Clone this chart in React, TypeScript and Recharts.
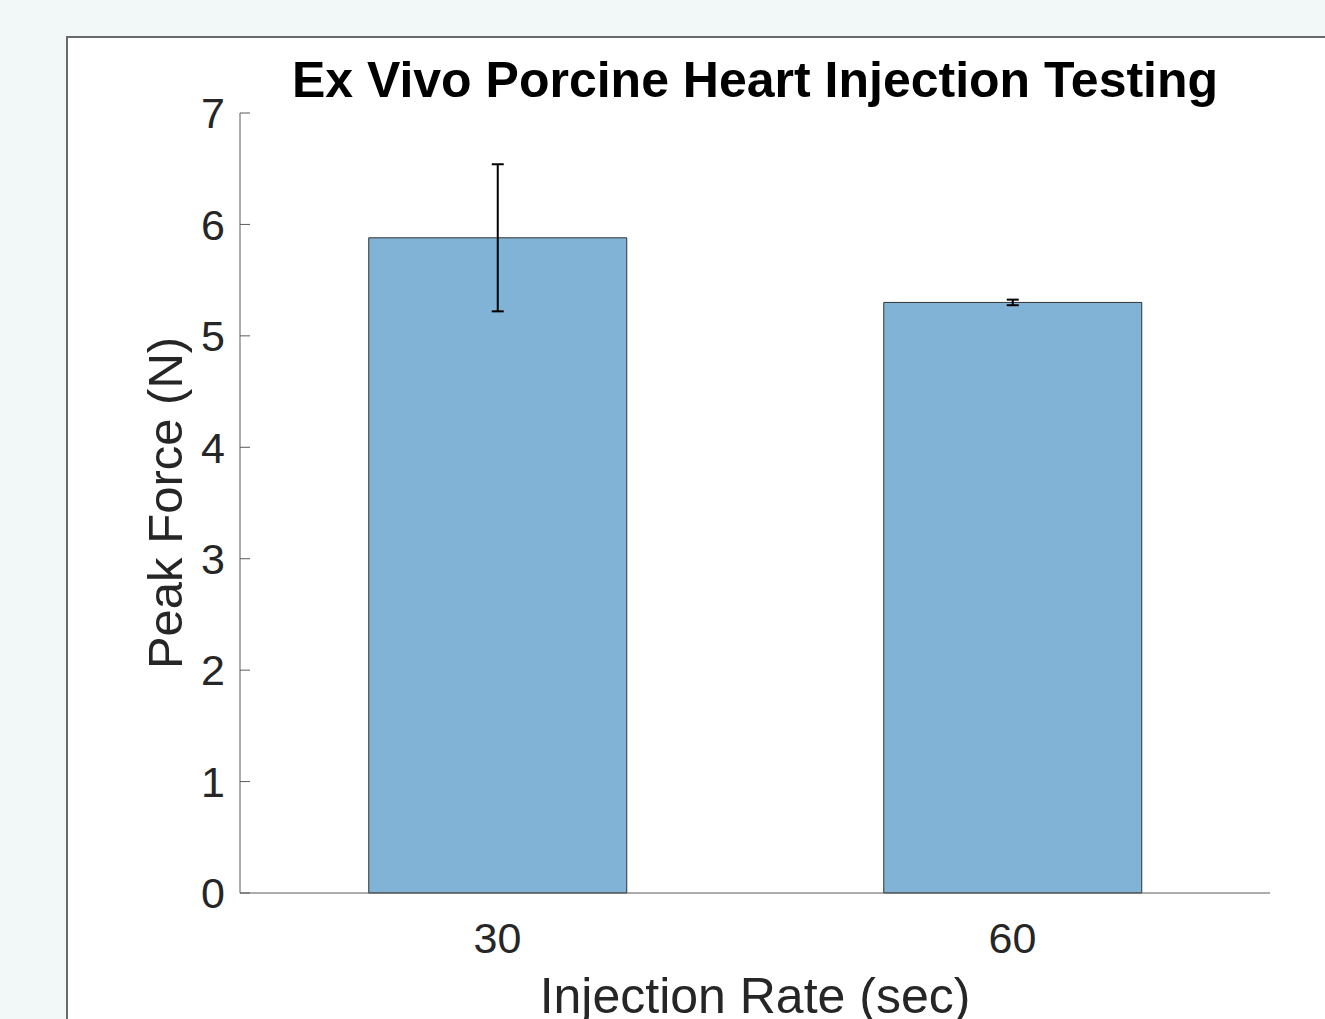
import React from 'react';
import { BarChart, Bar, XAxis, YAxis, ErrorBar } from 'recharts';

// injection rate categories (sec)
const rates = ['30', '60'];
// mean peak force (N)
const peakForce = [5.88, 5.3];
// standard deviation for the error bars
const forceError = [0.66, 0.025];
const yTicks = [0, 1, 2, 3, 4, 5, 6, 7];

const chartData = rates.map((rate, i) => ({
  rate,
  force: peakForce[i],
  err: forceError[i],
}));

const FONT = '"Liberation Sans", Arial, Helvetica, sans-serif';
const TEXT = '#262626';

const XLabel = (props: any) => {
  const { viewBox } = props;
  return (
    <text
      x={viewBox.x + viewBox.width / 2}
      y={viewBox.y + 120}
      textAnchor="middle"
      fontSize={50}
      fill={TEXT}
      fontFamily={FONT}
    >
      Injection Rate (sec)
    </text>
  );
};

const YLabel = (props: any) => {
  const { viewBox } = props;
  const cx = 182;
  const cy = viewBox.y + viewBox.height / 2;
  return (
    <text
      x={cx}
      y={cy}
      transform={`rotate(-90, ${cx}, ${cy})`}
      textAnchor="middle"
      fontSize={49}
      fill={TEXT}
      fontFamily={FONT}
    >
      Peak Force (N)
    </text>
  );
};

const App: React.FC = () => {
  return (
    <div
      style={{
        position: 'absolute',
        left: 0,
        top: 0,
        width: 1325,
        height: 1019,
        background: '#f2f7f8',
        overflow: 'hidden',
        fontFamily: FONT,
      }}
    >
      {/* figure frame */}
      <div
        style={{
          position: 'absolute',
          left: 66,
          top: 36,
          width: 1400,
          height: 1100,
          border: '2px solid #6a6a6a',
          background: '#ffffff',
        }}
      />
      <div
        style={{
          position: 'absolute',
          left: 755,
          top: 55,
          transform: 'translateX(-50%)',
          whiteSpace: 'nowrap',
          fontSize: 50,
          lineHeight: '50px',
          fontWeight: 'bold',
          color: '#000',
        }}
      >
        Ex Vivo Porcine Heart Injection Testing
      </div>
      <div style={{ position: 'absolute', left: 0, top: 0 }}>
        <BarChart
          width={1325}
          height={1019}
          data={chartData}
          margin={{ top: 113, right: 55, bottom: 0, left: 0 }}
          barCategoryGap="25%"
        >
          <XAxis
            dataKey="rate"
            type="category"
            height={126}
            stroke="#5a5a5a"
            tickLine={false}
            tickSize={0}
            tickMargin={29}
            tick={{ fill: TEXT, fontSize: 43, fontFamily: FONT }}
            label={<XLabel />}
          />
          <YAxis
            type="number"
            domain={[0, 7]}
            ticks={yTicks}
            width={240}
            stroke="#5a5a5a"
            tickSize={-10}
            tickMargin={25}
            tick={{ fill: TEXT, fontSize: 43, fontFamily: FONT }}
            label={<YLabel />}
          />
          <Bar
            dataKey="force"
            fill="#80b3d6"
            stroke="#333333"
            strokeWidth={1}
            isAnimationActive={false}
          >
            <ErrorBar
              dataKey="err"
              direction="y"
              width={6}
              stroke="#000000"
              strokeWidth={2}
            />
          </Bar>
        </BarChart>
      </div>
    </div>
  );
};

export default App;
